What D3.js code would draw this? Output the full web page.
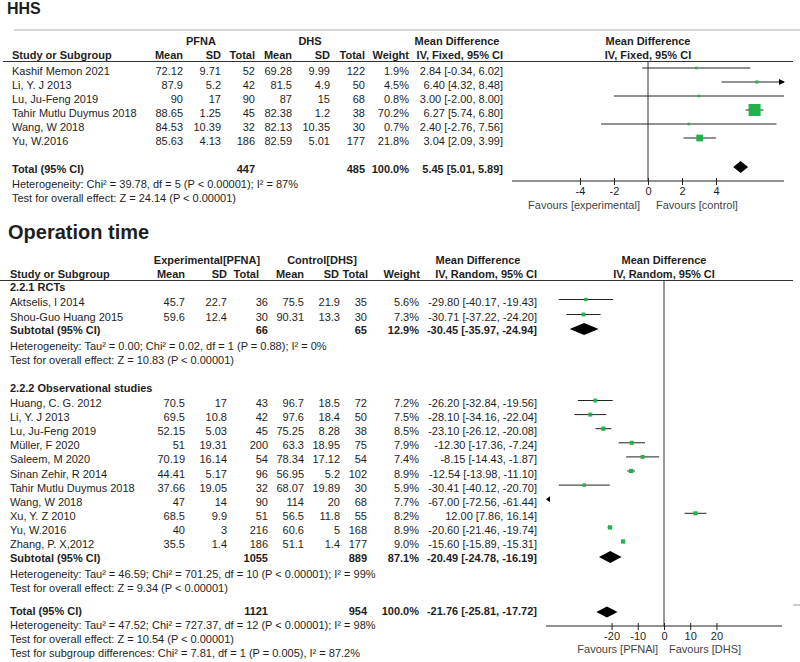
<!DOCTYPE html>
<html><head><meta charset="utf-8">
<script src="https://cdn.jsdelivr.net/npm/d3@7"></script>
<style>body{margin:0;background:#fff}svg{display:block}</style>
</head><body>
<svg id="c" width="800" height="662"></svg>
<script>
// ---------- HHS data ----------
const hhsStudies = ["Kashif Memon 2021","Li, Y. J 2013","Lu, Ju-Feng  2019","Tahir Mutlu Duymus 2018","Wang, W  2018","Yu, W.2016"];
const hhsPfnaMean = ["72.12","87.9","90","88.65","84.53","85.63"];
const hhsPfnaSD = ["9.71","5.2","17","1.25","10.39","4.13"];
const hhsPfnaN = [52,42,90,45,32,186];
const hhsDhsMean = ["69.28","81.5","87","82.38","82.13","82.59"];
const hhsDhsSD = ["9.99","4.9","15","1.2","10.35","5.01"];
const hhsDhsN = [122,50,68,38,30,177];
const hhsWeight = [1.9,4.5,0.8,70.2,0.7,21.8];
const hhsMD = [2.84,6.40,3.00,6.27,2.40,3.04];
const hhsLo = [-0.34,4.32,-2.00,5.74,-2.76,2.09];
const hhsHi = [6.02,8.48,8.00,6.80,7.56,3.99];
const hhsTotal = {n1:447,n2:485,w:100.0,md:5.45,lo:5.01,hi:5.89};
const hhsTicks = [-4,-2,0,2,4];
const hhsDomain = [-8,8];

// ---------- Operation time data ----------
const opGroups = ["2.2.1 RCTs","2.2.2 Observational studies"];
const opStudies = ["Aktselis, I 2014","Shou-Guo Huang 2015",
  "Huang, C. G. 2012","Li, Y. J 2013","Lu, Ju-Feng  2019","Müller, F 2020","Saleem, M  2020","Sinan Zehir, R 2014","Tahir Mutlu Duymus 2018","Wang, W  2018","Xu, Y. Z  2010","Yu, W.2016","Zhang, P. X,2012"];
const opGroupOf = [0,0,1,1,1,1,1,1,1,1,1,1,1];
const opExpMean = ["45.7","59.6","70.5","69.5","52.15","51","70.19","44.41","37.66","47","68.5","40","35.5"];
const opExpSD = ["22.7","12.4","17","10.8","5.03","19.31","16.14","5.17","19.05","14","9.9","3","1.4"];
const opExpN = [36,30,43,42,45,200,54,96,32,90,51,216,186];
const opCtlMean = ["75.5","90.31","96.7","97.6","75.25","63.3","78.34","56.95","68.07","114","56.5","60.6","51.1"];
const opCtlSD = ["21.9","13.3","18.5","18.4","8.28","18.95","17.12","5.2","19.89","20","11.8","5","1.4"];
const opCtlN = [35,30,72,50,38,75,54,102,30,68,55,168,177];
const opWeight = [5.6,7.3,7.2,7.5,8.5,7.9,7.4,8.9,5.9,7.7,8.2,8.9,9.0];
const opMD = [-29.80,-30.71,-26.20,-28.10,-23.10,-12.30,-8.15,-12.54,-30.41,-67.00,12.00,-20.60,-15.60];
const opLo = [-40.17,-37.22,-32.84,-34.16,-26.12,-17.36,-14.43,-13.98,-40.12,-72.56,7.86,-21.46,-15.89];
const opHi = [-19.43,-24.20,-19.56,-22.04,-20.08,-7.24,-1.87,-11.10,-20.70,-61.44,16.14,-19.74,-15.31];
const opSubN1 = [66,1055], opSubN2 = [65,889], opSubW = [12.9,87.1];
const opSubMD = [-30.45,-20.49], opSubLo = [-35.97,-24.78], opSubHi = [-24.94,-16.19];
const opSubHet = ["Heterogeneity: Tau² = 0.00; Chi² = 0.02, df = 1 (P = 0.88); I² = 0%",
                  "Heterogeneity: Tau² = 46.59; Chi² = 701.25, df = 10 (P < 0.00001); I² = 99%"];
const opSubTest = ["Test for overall effect: Z = 10.83 (P < 0.00001)","Test for overall effect: Z = 9.34 (P < 0.00001)"];
const opTotal = {n1:1121,n2:954,w:100.0,md:-21.76,lo:-25.81,hi:-17.72};
const opTicks = [-20,-10,0,10,20];
const opDomain = [-45,45];

// ---------- drawing ----------
const svg = d3.select("#c");
svg.append("rect").attr("width",800).attr("height",662).attr("fill","#fff");
const FONT = "'Liberation Sans', Arial, sans-serif";
const TXT = "#1e1e1e", GREEN = "#22b24c", LINE = "#222";
function T(x,y,s,o={}){
  return svg.append("text").attr("x",x).attr("y",y).text(s)
    .attr("font-family",FONT).attr("font-size",o.size||11)
    .attr("font-weight",o.bold?"bold":"normal")
    .attr("text-anchor",o.anchor||"start").attr("fill",o.fill||TXT);
}
function L(x1,y1,x2,y2,c,w){svg.append("line").attr("x1",x1).attr("y1",y1).attr("x2",x2).attr("y2",y2).attr("stroke",c||LINE).attr("stroke-width",w||1);}
const f2 = v=>v.toFixed(2);
const ci = (m,l,h)=>`${f2(m)} [${f2(l)}, ${f2(h)}]`;
const boxSize = w=>Math.max(2.6, 12*Math.sqrt(w/70.2));
function diamond(x, md, lo, hi, y, h){
  svg.append("path").attr("d",`M${x(lo)},${y} L${x(md)},${y-h/2} L${x(hi)},${y} L${x(md)},${y+h/2} Z`).attr("fill","#000");
}
function study(x, md, lo, hi, w, y){
  const [d0,d1] = x.domain();
  const a = x(Math.max(lo,d0)), b = x(Math.min(hi,d1));
  if (hi > d0 && lo < d1) L(a,y,b,y,LINE,1);
  if (hi > d1) svg.append("path").attr("d",`M${x(d1)+1},${y} L${x(d1)-5},${y-3} L${x(d1)-5},${y+3} Z`).attr("fill","#000");
  if (lo < d0) svg.append("path").attr("d",`M${x(d0)},${y} L${x(d0)+4},${y-3} L${x(d0)+4},${y+3} Z`).attr("fill","#000");
  if (md >= d0 && md <= d1){
    const s = boxSize(w);
    svg.append("rect").attr("x",x(md)-s/2).attr("y",y-s/2).attr("width",s).attr("height",s).attr("fill",GREEN);
  }
}
function axis(x, ticks, y){
  const g = svg.append("g").attr("transform",`translate(0,${y})`)
    .call(d3.axisBottom(x).tickValues(ticks).tickSize(4).tickFormat(d=>String(d)));
  g.select(".domain").remove();
  L(x.range()[0],y,x.range()[1],y,LINE,1);
  g.selectAll(".tick line").attr("y1",-3).attr("y2",4).attr("stroke",LINE);
  g.selectAll(".tick text").attr("y",14).attr("dy",null).attr("font-family",FONT).attr("font-size",11).attr("fill",TXT);
}

// ===== HHS =====
T(7,14,"HHS",{bold:true,size:16});
L(14,30,800,30,"#c8c8c8",1.5);
T(201,45,"PFNA",{bold:true,anchor:"middle"});
T(310,45,"DHS",{bold:true,anchor:"middle"});
T(457,45,"Mean Difference",{bold:true,anchor:"middle"});
T(648,45,"Mean Difference",{bold:true,anchor:"middle"});
const hc = {mean1:183,sd1:221,n1:255,mean2:292,sd2:330,n2:365,w:409,ci:503};
T(12,59,"Study or Subgroup",{bold:true});
T(hc.mean1,59,"Mean",{bold:true,anchor:"end"});
T(hc.sd1,59,"SD",{bold:true,anchor:"end"});
T(hc.n1,59,"Total",{bold:true,anchor:"end"});
T(hc.mean2,59,"Mean",{bold:true,anchor:"end"});
T(hc.sd2,59,"SD",{bold:true,anchor:"end"});
T(hc.n2,59,"Total",{bold:true,anchor:"end"});
T(hc.w,59,"Weight",{bold:true,anchor:"end"});
T(hc.ci,59,"IV, Fixed, 95% CI",{bold:true,anchor:"end"});
T(648,59,"IV, Fixed, 95% CI",{bold:true,anchor:"middle"});
L(3,61.5,793,61.5,"#333",1.2);

const hx = d3.scaleLinear().domain(hhsDomain).range([512,784]);
L(hx(0),61,hx(0),181,"#333",1);
hhsStudies.forEach((s,i)=>{
  const yb = 75 + i*14;
  T(12,yb,s);
  T(hc.mean1,yb,hhsPfnaMean[i],{anchor:"end"});
  T(hc.sd1,yb,hhsPfnaSD[i],{anchor:"end"});
  T(hc.n1,yb,hhsPfnaN[i],{anchor:"end"});
  T(hc.mean2,yb,hhsDhsMean[i],{anchor:"end"});
  T(hc.sd2,yb,hhsDhsSD[i],{anchor:"end"});
  T(hc.n2,yb,hhsDhsN[i],{anchor:"end"});
  T(hc.w,yb,hhsWeight[i].toFixed(1)+"%",{anchor:"end"});
  T(hc.ci,yb,ci(hhsMD[i],hhsLo[i],hhsHi[i]),{anchor:"end"});
  study(hx,hhsMD[i],hhsLo[i],hhsHi[i],hhsWeight[i],yb-7);
});
T(12,173,"Total (95% CI)",{bold:true});
T(hc.n1,173,hhsTotal.n1,{bold:true,anchor:"end"});
T(hc.n2,173,hhsTotal.n2,{bold:true,anchor:"end"});
T(hc.w,173,hhsTotal.w.toFixed(1)+"%",{bold:true,anchor:"end"});
T(hc.ci,173,ci(hhsTotal.md,hhsTotal.lo,hhsTotal.hi),{bold:true,anchor:"end"});
diamond(hx,hhsTotal.md,hhsTotal.lo,hhsTotal.hi,167,12);
T(12,188,"Heterogeneity: Chi² = 39.78, df = 5 (P < 0.00001); I² = 87%");
T(12,202,"Test for overall effect: Z = 24.14 (P < 0.00001)");
axis(hx,hhsTicks,181);
T(640,209,"Favours [experimental]",{anchor:"end",fill:"#444"});
T(656,209,"Favours [control]",{fill:"#444"});

// ===== Operation time =====
T(8,239,"Operation time",{bold:true,size:20});
T(207,264,"Experimental[PFNA]",{bold:true,anchor:"middle"});
T(322,264,"Control[DHS]",{bold:true,anchor:"middle"});
T(478,264,"Mean Difference",{bold:true,anchor:"middle"});
T(664,264,"Mean Difference",{bold:true,anchor:"middle"});
const oc = {mean1:185,sd1:227,n1:268,mean2:304,sd2:340,n2:367,w:419,ci:537};
T(10,278,"Study or Subgroup",{bold:true});
T(185,278,"Mean",{bold:true,anchor:"end"});
T(227,278,"SD",{bold:true,anchor:"end"});
T(259,278,"Total",{bold:true,anchor:"end"});
T(304,278,"Mean",{bold:true,anchor:"end"});
T(339,278,"SD",{bold:true,anchor:"end"});
T(368,278,"Total",{bold:true,anchor:"end"});
T(420,278,"Weight",{bold:true,anchor:"end"});
T(537,278,"IV, Random, 95% CI",{bold:true,anchor:"end"});
T(664,278,"IV, Random, 95% CI",{bold:true,anchor:"middle"});
L(0,280.5,793,280.5,"#333",1.2);

const ox = d3.scaleLinear().domain(opDomain).range([546,782]);
L(ox(0),280,ox(0),626,"#333",1);

const groupStart = [291,392];
const subBase = [334,562];
opGroups.forEach((g,gi)=>{
  T(10,groupStart[gi],g,{bold:true});
  let k = 0;
  opStudies.forEach((s,i)=>{
    if (opGroupOf[i]!==gi) return;
    const yb = gi===0 ? [306,321][k] : 407 + k*14.1;
    k++;
    T(10,yb,s);
    T(oc.mean1,yb,opExpMean[i],{anchor:"end"});
    T(oc.sd1,yb,opExpSD[i],{anchor:"end"});
    T(oc.n1,yb,opExpN[i],{anchor:"end"});
    T(oc.mean2,yb,opCtlMean[i],{anchor:"end"});
    T(oc.sd2,yb,opCtlSD[i],{anchor:"end"});
    T(oc.n2,yb,opCtlN[i],{anchor:"end"});
    T(oc.w,yb,opWeight[i].toFixed(1)+"%",{anchor:"end"});
    T(oc.ci,yb,ci(opMD[i],opLo[i],opHi[i]),{anchor:"end"});
    study(ox,opMD[i],opLo[i],opHi[i],opWeight[i],yb-6.5);
  });
  const sb = subBase[gi];
  T(10,sb,"Subtotal (95% CI)",{bold:true});
  T(oc.n1,sb,opSubN1[gi],{bold:true,anchor:"end"});
  T(oc.n2,sb,opSubN2[gi],{bold:true,anchor:"end"});
  T(oc.w,sb,opSubW[gi].toFixed(1)+"%",{bold:true,anchor:"end"});
  T(oc.ci,sb,ci(opSubMD[gi],opSubLo[gi],opSubHi[gi]),{bold:true,anchor:"end"});
  diamond(ox,opSubMD[gi],opSubLo[gi],opSubHi[gi],sb-5,12);
  T(10,sb+16,opSubHet[gi]);
  T(10,sb+30,opSubTest[gi]);
});
T(10,615,"Total (95% CI)",{bold:true});
T(oc.n1,615,opTotal.n1,{bold:true,anchor:"end"});
T(oc.n2,615,opTotal.n2,{bold:true,anchor:"end"});
T(oc.w,615,opTotal.w.toFixed(1)+"%",{bold:true,anchor:"end"});
T(oc.ci,615,ci(opTotal.md,opTotal.lo,opTotal.hi),{bold:true,anchor:"end"});
diamond(ox,opTotal.md,opTotal.lo,opTotal.hi,612,11);
T(10,629,"Heterogeneity: Tau² = 47.52; Chi² = 727.37, df = 12 (P < 0.00001); I² = 98%");
T(10,643,"Test for overall effect: Z = 10.54 (P < 0.00001)");
T(10,657,"Test for subgroup differences: Chi² = 7.81, df = 1 (P = 0.005), I² = 87.2%");
axis(ox,opTicks,626);
T(658,653,"Favours [PFNAl]",{anchor:"end",fill:"#444"});
T(669,653,"Favours [DHS]",{fill:"#444"});
L(793,605,800,605,"#bbb",1.5);
</script>
</body></html>
